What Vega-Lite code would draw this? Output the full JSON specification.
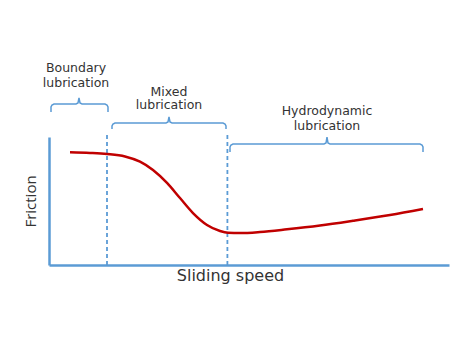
{
  "$schema": "https://vega.github.io/schema/vega-lite/v6.json",
  "width": 400,
  "height": 128,
  "autosize": {"type": "none"},
  "padding": {"left": 49, "top": 137, "right": 9, "bottom": 96},
  "background": "white",
  "config": {"view": {"stroke": null}},
  "datasets": {
    "curve": [
      {"speed": 5.25, "friction": 88.0},
      {"speed": 10.25, "friction": 87.5},
      {"speed": 14.5, "friction": 86.7},
      {"speed": 19.0, "friction": 84.8},
      {"speed": 22.75, "friction": 80.7},
      {"speed": 26.0, "friction": 74.2},
      {"speed": 29.5, "friction": 64.1},
      {"speed": 32.75, "friction": 52.3},
      {"speed": 36.0, "friction": 40.6},
      {"speed": 39.5, "friction": 31.3},
      {"speed": 42.75, "friction": 26.6},
      {"speed": 44.75, "friction": 25.2},
      {"speed": 47.75, "friction": 25.0},
      {"speed": 52.75, "friction": 25.8},
      {"speed": 59.5, "friction": 27.9},
      {"speed": 67.75, "friction": 30.9},
      {"speed": 76.0, "friction": 34.6},
      {"speed": 85.25, "friction": 39.1},
      {"speed": 93.5, "friction": 43.8}
    ],
    "dividers": [
      {"speed": 14.5, "friction": 0, "top": 101.6},
      {"speed": 44.6, "friction": 0, "top": 101.6}
    ],
    "brackets": [
      {"b": "boundary", "i": 1, "speed": 0.5, "friction": 119.53},
      {"b": "boundary", "i": 2, "speed": 0.5, "friction": 123.44},
      {"b": "boundary", "i": 3, "speed": 0.75, "friction": 125.0},
      {"b": "boundary", "i": 4, "speed": 1.25, "friction": 125.78},
      {"b": "boundary", "i": 5, "speed": 6.75, "friction": 125.78},
      {"b": "boundary", "i": 6, "speed": 7.25, "friction": 126.56},
      {"b": "boundary", "i": 7, "speed": 7.5, "friction": 130.47},
      {"b": "boundary", "i": 8, "speed": 7.75, "friction": 126.56},
      {"b": "boundary", "i": 9, "speed": 8.25, "friction": 125.78},
      {"b": "boundary", "i": 10, "speed": 14.0, "friction": 125.78},
      {"b": "boundary", "i": 11, "speed": 14.5, "friction": 125.0},
      {"b": "boundary", "i": 12, "speed": 14.75, "friction": 123.44},
      {"b": "boundary", "i": 13, "speed": 14.75, "friction": 119.53},
      {"b": "mixed", "i": 1, "speed": 15.75, "friction": 106.25},
      {"b": "mixed", "i": 2, "speed": 15.75, "friction": 108.59},
      {"b": "mixed", "i": 3, "speed": 16.0, "friction": 110.16},
      {"b": "mixed", "i": 4, "speed": 16.5, "friction": 110.94},
      {"b": "mixed", "i": 5, "speed": 29.25, "friction": 110.94},
      {"b": "mixed", "i": 6, "speed": 29.75, "friction": 111.72},
      {"b": "mixed", "i": 7, "speed": 30.0, "friction": 115.63},
      {"b": "mixed", "i": 8, "speed": 30.25, "friction": 111.72},
      {"b": "mixed", "i": 9, "speed": 30.75, "friction": 110.94},
      {"b": "mixed", "i": 10, "speed": 43.5, "friction": 110.94},
      {"b": "mixed", "i": 11, "speed": 44.0, "friction": 110.16},
      {"b": "mixed", "i": 12, "speed": 44.25, "friction": 108.59},
      {"b": "mixed", "i": 13, "speed": 44.25, "friction": 106.25},
      {"b": "hydro", "i": 1, "speed": 45.25, "friction": 88.28},
      {"b": "hydro", "i": 2, "speed": 45.25, "friction": 92.19},
      {"b": "hydro", "i": 3, "speed": 45.5, "friction": 93.75},
      {"b": "hydro", "i": 4, "speed": 46.0, "friction": 94.53},
      {"b": "hydro", "i": 5, "speed": 68.75, "friction": 94.53},
      {"b": "hydro", "i": 6, "speed": 69.25, "friction": 95.31},
      {"b": "hydro", "i": 7, "speed": 69.5, "friction": 100.0},
      {"b": "hydro", "i": 8, "speed": 69.75, "friction": 95.31},
      {"b": "hydro", "i": 9, "speed": 70.25, "friction": 94.53},
      {"b": "hydro", "i": 10, "speed": 92.75, "friction": 94.53},
      {"b": "hydro", "i": 11, "speed": 93.25, "friction": 93.75},
      {"b": "hydro", "i": 12, "speed": 93.5, "friction": 92.19},
      {"b": "hydro", "i": 13, "speed": 93.5, "friction": 88.28}
    ],
    "labels": [
      {"speed": 6.75, "friction": 150.4, "text": "Boundary"},
      {"speed": 6.75, "friction": 139.06, "text": "lubrication"},
      {"speed": 30.0, "friction": 132.4, "text": "Mixed"},
      {"speed": 30.0, "friction": 121.88, "text": "lubrication"},
      {"speed": 69.5, "friction": 117.19, "text": "Hydrodynamic"},
      {"speed": 69.5, "friction": 105.47, "text": "lubrication"}
    ]
  },
  "encoding": {
    "x": {
      "field": "speed",
      "type": "quantitative",
      "scale": {"domain": [0, 100], "nice": false, "zero": false},
      "axis": {
        "title": "Sliding speed",
        "grid": false,
        "ticks": false,
        "labels": false,
        "domainColor": "#5b9bd5",
        "domainWidth": 2.5,
        "titleFont": "DejaVu Sans",
        "titleFontSize": 16,
        "titleFontWeight": "normal",
        "titleColor": "#333333",
        "titleBaseline": "alphabetic",
        "titleX": 181,
        "titleY": 15
      }
    },
    "y": {
      "field": "friction",
      "type": "quantitative",
      "scale": {"domain": [0, 100], "nice": false, "zero": false},
      "axis": {
        "title": "Friction",
        "grid": false,
        "ticks": false,
        "labels": false,
        "domainColor": "#5b9bd5",
        "domainWidth": 2.5,
        "titleFont": "Open Sans",
        "titleFontSize": 15,
        "titleFontWeight": "normal",
        "titleColor": "#333333",
        "titleAngle": -90,
        "titleBaseline": "alphabetic",
        "titleX": -14,
        "titleY": 64
      }
    }
  },
  "layer": [
    {
      "data": {"name": "dividers"},
      "mark": {"type": "rule", "color": "#5b9bd5", "strokeWidth": 1.8, "strokeDash": [4, 3]},
      "encoding": {"y2": {"field": "top"}}
    },
    {
      "data": {"name": "brackets"},
      "mark": {"type": "line", "color": "#5b9bd5", "strokeWidth": 1.5},
      "encoding": {
        "detail": {"field": "b", "type": "nominal"},
        "order": {"field": "i", "type": "quantitative"}
      }
    },
    {
      "data": {"name": "curve"},
      "mark": {"type": "line", "color": "#c00000", "strokeWidth": 2.5, "interpolate": "monotone"},
      "encoding": {}
    },
    {
      "data": {"name": "labels"},
      "mark": {"type": "text", "font": "DejaVu Sans", "fontSize": 12.5, "color": "#333333", "align": "center", "baseline": "alphabetic"},
      "encoding": {"text": {"field": "text", "type": "nominal"}}
    }
  ]
}
